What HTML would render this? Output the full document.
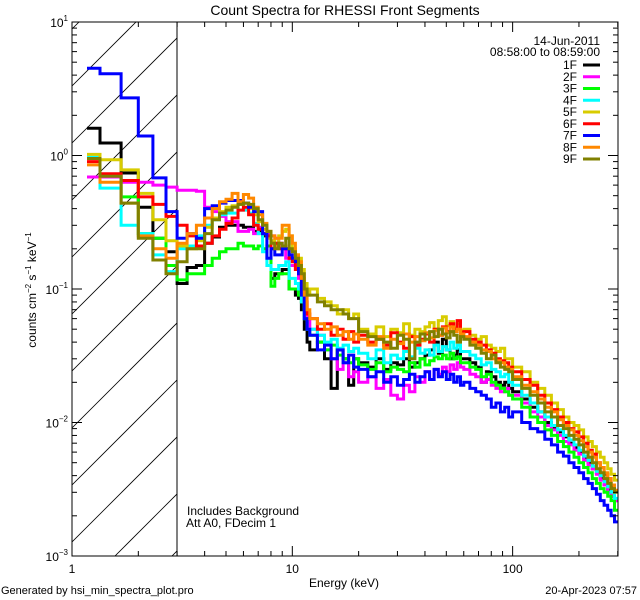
<!DOCTYPE html>
<html><head><meta charset="utf-8"><style>
html,body{margin:0;padding:0;background:#fff;overflow:hidden;width:640px;height:600px}
svg{display:block;font-family:"Liberation Sans",sans-serif}
</style></head><body>
<svg id="chart" width="640" height="600" viewBox="0 0 640 600" xmlns="http://www.w3.org/2000/svg">
<rect width="640" height="600" fill="#fff"/>
<text x="345" y="15" font-size="14" text-anchor="middle">Count Spectra for RHESSI Front Segments</text>
<defs><clipPath id="hclip"><rect x="72" y="22" width="105" height="534"/></clipPath><clipPath id="pclip"><rect x="72" y="22" width="546" height="534"/></clipPath></defs>
<g id="hatch" clip-path="url(#hclip)"></g>
<line x1="177" y1="22" x2="177" y2="556" stroke="#000" stroke-width="1"/>
<g id="series" clip-path="url(#pclip)"></g>
<rect x="72" y="22" width="546" height="534" fill="none" stroke="#000" stroke-width="1"/>
<g id="axes"></g>
<text x="600" y="45" font-size="12" text-anchor="end">14-Jun-2011</text>
<text x="600" y="56" font-size="12" text-anchor="end">08:58:00 to 08:59:00</text>
<g id="legend"></g>
<text x="187" y="515" font-size="12">Includes Background</text>
<text x="186" y="527" font-size="12">Att A0, FDecim 1</text>
<text x="344" y="587" font-size="12" text-anchor="middle">Energy (keV)</text>
<text transform="translate(36,290) rotate(-90)" font-size="12" text-anchor="middle">counts cm<tspan font-size="8" dy="-5">−2</tspan><tspan dy="5"> s</tspan><tspan font-size="8" dy="-5">−1</tspan><tspan dy="5"> keV</tspan><tspan font-size="8" dy="-5">−1</tspan></text>
<text x="1" y="594" font-size="11">Generated by hsi_min_spectra_plot.pro</text>
<text x="637" y="594" font-size="11" text-anchor="end">20-Apr-2023 07:57</text>
</svg>
<script>
const edges=[1.17,1.34,1.67,2.0,2.33,2.67,3.0,3.33,3.67,4.0,4.33,4.67,5.0,5.33,5.67,6.0,6.33,6.67,7.0,7.33,7.67,8.0,8.33,8.67,9.0,9.33,9.67,10,10.33,10.67,11,11.33,11.67,12,13,14,15,16,17,18,19,20,22,24,26,28,30,32,34,36,38,40,42,44,46,48,50,52,54,56,58,60,64,68,72,76,80,84,88,92,96,100,110,120,130,140,150,160,170,180,190,200,210,220,230,240,250,260,270,280,290,300];
const seriesNames=["1F","2F","3F","4F","5F","6F","7F","8F","9F"];
const seriesColors=["#000000","#ff00ff","#00ff00","#00ffff","#d8cc00","#ff0000","#0000ff","#ff8800","#808000"];
const s1F=[1.6,1.24,0.74,0.41,0.24,0.19, 0.11,0.145,0.15,0.22,0.245,0.29,0.3,0.3,0.3,0.29,0.29,0.27,0.27,0.25,0.25,0.12,0.13,0.13,0.14,0.14,0.1,0.1,0.09,0.085,0.07,0.05,0.04,
.035,.04,.03,.018,.035,.03,.019,.03,.028,.026,.03,.025,.028,.027,.03,.026,.028,.03,.032,.035,.04,.033,.042,.035,.03,.032,.035,.03,.03,.028,.026,.02,.024,.022,.02,.019,.02,.018,.017,.015,.013,.012,.01,.009,.0085,.0078,.007,.0065,.006,.0055,.005,.0045,.0042,.0038,.0034,.0031,.0028,.0026];
const s2F=[0.69,0.69,0.63,0.63,0.6,0.58, 0.55,0.55,0.54,0.41,0.38,0.35,0.32,0.32,0.27,0.27,0.28,0.26,0.29,0.26,0.26,0.25,0.24,0.22,0.2,0.17,0.15,0.15,0.14,0.12,0.1,0.08,0.06,
.05,.045,.035,.03,.025,.028,.022,.024,.02,.022,.018,.021,.016,.015,.019,.017,.022,.02,.024,.021,.025,.023,.026,.024,.027,.025,.028,.026,.025,.023,.022,.02,.021,.019,.018,.017,.018,.016,.016,.014,.012,.011,.0095,.0088,.008,.0072,.0068,.0062,.0058,.0052,.0048,.0045,.0041,.0037,.0034,.003,.0028,.0026];
const s3F=[0.95,0.72,0.49,0.26,0.24,0.15, 0.117,0.13,0.13,0.15,0.17,0.19,0.2,0.2,0.22,0.21,0.21,0.2,0.21,0.2,0.21,0.105,0.12,0.13,0.13,0.13,0.1,0.1,0.1,0.09,0.08,0.06,0.05,
.045,.04,.035,.038,.032,.03,.028,.03,.027,.025,.028,.024,.026,.025,.024,.028,.026,.03,.027,.029,.031,.03,.032,.03,.033,.03,.031,.028,.028,.026,.025,.022,.023,.02,.019,.018,.017,.016,.015,.013,.011,.01,.0088,.008,.0072,.0066,.006,.0055,.005,.0046,.0042,.0038,.0035,.0032,.003,.0028,.0026,.0022];
const s4F=[0.97,0.57,0.30,0.26,0.18,0.135, 0.2,0.21,0.25,0.3,0.33,0.36,0.37,0.37,0.39,0.39,0.37,0.31,0.26,0.19,0.15,0.14,0.14,0.15,0.15,0.16,0.12,0.12,0.11,0.1,0.08,0.06,0.05,
.05,.045,.04,.042,.036,.038,.034,.036,.033,.03,.035,.028,.032,.03,.034,.031,.036,.033,.035,.032,.038,.034,.037,.035,.04,.036,.038,.034,.034,.032,.03,.027,.028,.025,.024,.022,.023,.02,.019,.016,.014,.012,.011,.0095,.0088,.008,.0074,.0068,.0062,.0056,.0052,.0047,.0043,.004,.0036,.0033,.003,.0027];
const s5F=[1.02,0.93,0.78,0.52,0.33,0.23, 0.21,0.2,0.23,0.29,0.34,0.38,0.41,0.42,0.43,0.44,0.4,0.36,0.32,0.28,0.24,0.23,0.21,0.25,0.27,0.28,0.25,0.2,0.18,0.17,0.14,0.11,0.09,
.1,.085,.08,.075,.065,.07,.06,.065,.05,.046,.052,.044,.05,.047,.055,.045,.05,.048,.052,.056,.05,.058,.062,.053,.057,.051,.055,.049,.05,.045,.042,.044,.038,.036,.034,.036,.03,.03,.026,.024,.02,.018,.016,.014,.0125,.011,.01,.0095,.0088,.0078,.0072,.0066,.006,.0055,.005,.0045,.0041,.0037];
const s6F=[0.9,0.73,0.65,0.49,0.43,0.35, 0.3,0.25,0.21,0.22,0.25,0.28,0.31,0.34,0.39,0.41,0.36,0.3,0.28,0.26,0.25,0.2,0.22,0.2,0.21,0.2,0.17,0.16,0.14,0.13,0.1,0.08,0.065,
.06,.05,.055,.045,.05,.042,.048,.04,.045,.04,.042,.038,.047,.04,.036,.044,.038,.042,.046,.04,.05,.045,.052,.048,.055,.05,.058,.047,.048,.042,.04,.038,.035,.033,.03,.029,.028,.026,.024,.021,.019,.016,.014,.0125,.011,.01,.009,.0085,.0078,.007,.0062,.0058,.005,.0046,.0041,.0038,.0033,.0031];
const s7F=[4.5,4.1,2.7,1.4,0.68,0.38, 0.24,0.26,0.24,0.4,0.42,0.44,0.46,0.46,0.46,0.44,0.41,0.38,0.38,0.26,0.17,0.2,0.18,0.18,0.2,0.2,0.18,0.17,0.16,0.13,0.09,0.06,0.05,
.045,.035,.038,.03,.035,.028,.032,.026,.025,.022,.024,.02,.022,.019,.021,.023,.02,.022,.024,.021,.025,.022,.024,.021,.023,.02,.022,.019,.02,.018,.017,.016,.015,.013,.014,.012,.013,.011,.012,.01,.009,.0085,.0075,.0068,.006,.0056,.005,.0046,.0042,.0038,.0035,.0032,.0029,.0026,.0024,.0022,.002,.0018];
const s8F=[0.85,0.63,0.44,0.25,0.2,0.17, 0.22,0.26,0.3,0.34,0.4,0.45,0.47,0.52,0.45,0.51,0.48,0.41,0.36,0.31,0.27,0.25,0.24,0.24,0.3,0.3,0.25,0.22,0.18,0.16,0.12,0.09,0.07,
.06,.055,.05,.052,.045,.048,.042,.046,.042,.038,.044,.036,.042,.039,.046,.04,.044,.041,.047,.043,.049,.045,.051,.047,.052,.048,.05,.046,.044,.04,.038,.035,.034,.03,.029,.028,.026,.025,.022,.019,.017,.015,.013,.012,.0105,.0095,.0088,.008,.0073,.0066,.006,.0055,.005,.0046,.0042,.0038,.0034,.0031];
const s9F=[0.95,0.7,0.44,0.24,0.165,0.13, 0.16,0.2,0.2,0.26,0.33,0.37,0.39,0.41,0.43,0.44,0.43,0.4,0.33,0.3,0.27,0.22,0.2,0.22,0.21,0.24,0.2,0.19,0.17,0.15,0.13,0.1,0.09,
.09,.08,.075,.07,.07,.065,.06,.06,.048,.044,.042,.04,.036,.045,.042,.03,.04,.046,.042,.048,.044,.05,.046,.043,.048,.045,.04,.044,.042,.038,.036,.033,.03,.032,.028,.026,.025,.024,.021,.018,.016,.014,.012,.011,.0095,.009,.008,.0075,.0068,.006,.0055,.005,.0045,.0042,.0038,.0035,.0032,.003];
const allSeries=[s1F,s2F,s3F,s4F,s5F,s6F,s7F,s8F,s9F];
const xMajorTicks=[1,10,100];
const xMajorLabels=["1","10","100"];
const yMajorTicks=[-3,-2,-1,0,1];

const NS="http://www.w3.org/2000/svg";
const X0=72,X1=618,Y0=22,Y1=556;
const xLogMin=0,xLogMax=Math.log10(300.8);
const yLogMin=-3,yLogMax=1;
function xs(e){return X0+(Math.log10(e)-xLogMin)/(xLogMax-xLogMin)*(X1-X0);}
function ys(v){return Y1-(Math.log10(v)-yLogMin)/(yLogMax-yLogMin)*(Y1-Y0);}
function mk(tag,attrs,parent){const el=document.createElementNS(NS,tag);for(const k in attrs)el.setAttribute(k,attrs[k]);parent.appendChild(el);return el;}

const hatch=document.getElementById('hatch');
for(let c=29-57*2;c<Y1+200;c+=57){
  const l=mk('line',{x1:X0,y1:c,x2:X0+600,y2:c-600,stroke:'#000','stroke-width':0.8},hatch);
  
  
}

const sg=document.getElementById('series');
allSeries.forEach((vals,si)=>{
  let d='';
  for(let i=0;i<vals.length;i++){
    const xa=xs(edges[i]).toFixed(1),xb=xs(edges[i+1]).toFixed(1),y=ys(vals[i]).toFixed(1);
    d+=(i===0?'M':'L')+xa+','+y+'L'+xb+','+y;
  }
  const p=mk('path',{d:d,fill:'none',stroke:seriesColors[si],'stroke-width':3,'stroke-linejoin':'miter'},sg);
  
  
});

const ax=document.getElementById('axes');
for(let dec=0;dec<3;dec++){
  for(let m=1;m<=9;m++){
    const e=m*Math.pow(10,dec); if(e>300.8) continue;
    const x=xs(e), len=m===1?10:5;
    const t1=mk('line',{x1:x,y1:Y1,x2:x,y2:Y1-len,stroke:'#000'},ax);
    
    
    const t2=mk('line',{x1:x,y1:Y0,x2:x,y2:Y0+len,stroke:'#000'},ax);
    
    
  }
}
xMajorTicks.forEach((e,i)=>{
  const t=mk('text',{x:xs(e),y:Y1+17,'font-size':12,'text-anchor':'middle'},ax);
  t.textContent=xMajorLabels[i];
  
  
});
for(let dec=-3;dec<1;dec++){
  for(let m=1;m<=10;m++){
    const v=m*Math.pow(10,dec); const y=ys(v); const len=(m===1||m===10)?10:5;
    const a=mk('line',{x1:X0,y1:y,x2:X0+len,y2:y,stroke:'#000'},ax);
    
    
    const b=mk('line',{x1:X1,y1:y,x2:X1-len,y2:y,stroke:'#000'},ax);
    
    
  }
}
yMajorTicks.forEach(p=>{
  const y=ys(Math.pow(10,p));
  const t=mk('text',{x:X0-4,y:y+5,'font-size':12,'text-anchor':'end'},ax);
  
  
  const a=document.createElementNS(NS,'tspan');a.textContent='10';t.appendChild(a);
  const b=document.createElementNS(NS,'tspan');b.setAttribute('font-size','8');b.setAttribute('dy','-6');b.textContent=(p<0?'−':'')+Math.abs(p);t.appendChild(b);
});

const lg=document.getElementById('legend');
seriesNames.forEach((n,i)=>{
  const y=65+i*11.75;
  const t=mk('text',{x:577,y:y+4,'font-size':12,'text-anchor':'end'},lg);
  t.textContent=n;
  
  
  const l=mk('line',{x1:583,y1:y,x2:600,y2:y,stroke:seriesColors[i],'stroke-width':3},lg);
  
  
});
</script>
</body></html>
